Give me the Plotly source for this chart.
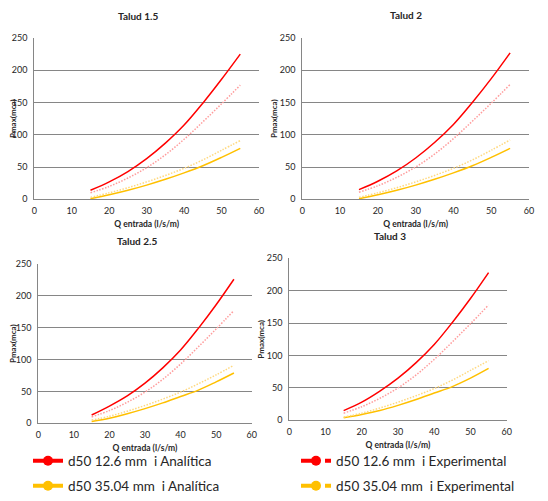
import plotly.graph_objects as go
from plotly.subplots import make_subplots

# caudal de entrada (l/s/m)
q_entrada = [15, 20, 25, 30, 35, 40, 45, 50, 55]

# Talud 1.5
t15_red_ana = [14, 27, 43, 63, 87, 115, 149, 186, 225]
t15_red_exp = [10, 20, 33, 49, 69, 93, 120, 148, 177]
t15_yel_ana = [1, 7, 14, 22, 31, 41, 52, 65, 79]
t15_yel_exp = [3, 10, 18, 27, 37, 48, 61, 76, 91]

# Talud 2
t2_red_ana = [15, 28, 44, 64, 88, 116, 150, 187, 227]
t2_red_exp = [11, 21, 34, 50, 70, 94, 121, 149, 178]
t2_yel_ana = [1, 7, 14, 22, 31, 41, 52, 65, 79]
t2_yel_exp = [3, 10, 18, 27, 37, 48, 61, 76, 92]

# Talud 2.5
t25_red_ana = [13, 27, 43, 63, 87, 115, 149, 186, 226]
t25_red_exp = [10, 20, 33, 49, 69, 93, 120, 148, 177]
t25_yel_ana = [3, 8, 15, 23, 32, 42, 52, 65, 79]
t25_yel_exp = [5, 11, 19, 28, 38, 49, 62, 76, 91]

# Talud 3
t3_red_ana = [15, 28, 45, 65, 89, 117, 151, 188, 228]
t3_red_exp = [11, 21, 34, 50, 70, 94, 121, 149, 178]
t3_yel_ana = [4, 9, 15, 23, 32, 42, 52, 65, 80]
t3_yel_exp = [5, 11, 19, 28, 38, 49, 62, 77, 92]

titulos = ["Talud 1.5", "Talud 2", "Talud 2.5", "Talud 3"]
series_nombres = ["d50 12.6 mm  i Analítica", "d50 12.6 mm  i Experimental",
                  "d50 35.04 mm  i Analítica", "d50 35.04 mm  i Experimental"]

paneles = [
    (t15_red_ana, t15_red_exp, t15_yel_ana, t15_yel_exp),
    (t2_red_ana, t2_red_exp, t2_yel_ana, t2_yel_exp),
    (t25_red_ana, t25_red_exp, t25_yel_ana, t25_yel_exp),
    (t3_red_ana, t3_red_exp, t3_yel_ana, t3_yel_exp),
]

# the page body has an 8px margin, so the figure is 8px smaller and
# every position below is taken from the window minus that offset
OFF = 8
W, H = 548 - OFF, 501 - OFF
FONT = "Lato"
RED = "#FF0000"
RED_LIGHT = "#FF9C9C"
YEL = "#FFC000"
YEL_LIGHT = "#FFD980"
GRID = "#868686"
TXT = "#262626"

# plot areas in window pixels: (x0, x1, y_top, y_bottom)
areas = [
    (34.3, 259.0, 38.0, 199.3),
    (302.3, 529.0, 38.0, 199.3),
    (38.3, 251.7, 264.0, 423.3),
    (289.3, 506.7, 258.3, 420.3),
]
title_pos = [(138, 16), (406, 15), (137, 241), (390, 236)]


def px(v):
    return (v - OFF) / W


def py(v):
    return 1 - (v - OFF) / H


fig = make_subplots(rows=2, cols=2)

estilos = [
    dict(color=RED, width=1.5),
    dict(color=RED_LIGHT, width=1.5, dash="1.5px,1.5px"),
    dict(color=YEL, width=1.5),
    dict(color=YEL_LIGHT, width=1.5, dash="1.5px,1.5px"),
]

for i, datos in enumerate(paneles):
    r, c = i // 2 + 1, i % 2 + 1
    for y, est in zip(datos, estilos):
        fig.add_trace(go.Scatter(x=q_entrada, y=y, mode="lines", line=dict(shape="spline", **est),
                                 showlegend=False, hoverinfo="skip"), row=r, col=c)

    x0, x1, yt, yb = areas[i]
    ax_sfx = "" if i == 0 else str(i + 1)
    fig.layout["xaxis" + ax_sfx].update(
        domain=[px(x0), px(x1)], range=[0, 60], dtick=10, showgrid=False,
        showline=True, linecolor=GRID, linewidth=1, ticks="", zeroline=False,
        tickfont=dict(size=9, color=TXT, family=FONT), ticklabelstandoff=3,
        title=dict(text="<b>Q entrada (l/s/m)</b>", font=dict(size=8.5, color=TXT, family=FONT), standoff=5),
        automargin=False,
    )
    fig.layout["yaxis" + ax_sfx].update(
        domain=[py(yb), py(yt)], range=[0, 250], dtick=50, showgrid=True,
        gridcolor=GRID, gridwidth=1, showline=True, linecolor=GRID, linewidth=1,
        ticks="", zeroline=False, tickfont=dict(size=9, color=TXT, family=FONT),
        ticklabelstandoff=4,
        title=dict(text="<b>Pmax(mca)</b>", font=dict(size=8, color=TXT, family=FONT), standoff=1),
        automargin=False,
    )
    tx, ty = title_pos[i]
    fig.add_annotation(x=px(tx), y=py(ty), xref="paper", yref="paper", text="<b>" + titulos[i] + "</b>",
                       xanchor="center", yanchor="middle", showarrow=False,
                       font=dict(size=10, color=TXT, family=FONT))

# legend entries (one legend per entry to place them like the original)
leg_pos = [(28, 461), (296, 461), (28, 486), (296, 486)]
leg_style = [
    dict(color=RED, width=4),
    dict(color=RED, width=4, dash="dash"),
    dict(color=YEL, width=4),
    dict(color=YEL, width=4, dash="dash"),
]
leg_marker = [RED, RED, YEL, YEL]
for k in range(4):
    lname = "legend" if k == 0 else "legend" + str(k + 1)
    fig.add_trace(go.Scatter(x=[None], y=[None], mode="lines+markers", name=series_nombres[k],
                             line=leg_style[k], marker=dict(size=10, color=leg_marker[k]),
                             legend=lname, showlegend=True))
    lx, ly = leg_pos[k]
    fig.layout[lname] = dict(x=px(lx), y=py(ly), xanchor="left", yanchor="middle",
                             bgcolor="rgba(0,0,0,0)", borderwidth=0,
                             font=dict(size=13.5, color=TXT, family=FONT), itemsizing="trace")

fig.update_layout(
    width=W, height=H, autosize=False,
    margin=dict(l=0, r=0, t=0, b=0, autoexpand=False),
    paper_bgcolor="white", plot_bgcolor="white",
    font=dict(family=FONT),
)

fig.write_html("out.html")
